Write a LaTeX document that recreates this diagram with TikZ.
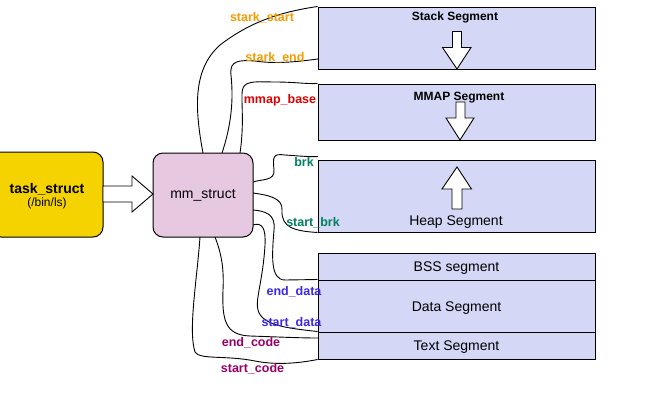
\documentclass[tikz,border=0pt]{standalone}
\usepackage{fontspec}
\setmainfont{Liberation Sans}
\usetikzlibrary{calc}
\definecolor{taskfill}{RGB}{245,211,0}
\definecolor{mmfill}{RGB}{230,200,224}
\definecolor{segfill}{RGB}{212,216,246}
\definecolor{lblorange}{RGB}{245,155,0}
\definecolor{lblred}{RGB}{220,0,0}
\definecolor{lblteal}{RGB}{0,128,96}
\definecolor{lblblue}{RGB}{60,40,230}
\definecolor{lblpurple}{RGB}{153,0,102}
\begin{document}
\begin{tikzpicture}[x=1pt,y=-1pt,
  roundbox/.style={draw=black,line width=1pt,rounded corners=10pt,inner sep=0pt,align=center},
  segbox/.style={draw=black,line width=1pt,fill=segfill,minimum width=277pt,inner sep=0pt},
  segtext/.style={font=\fontsize{14}{16}\selectfont,inner sep=0pt},
  seglabel/.style={font=\fontsize{12}{14}\selectfont\bfseries,inner sep=0pt},
  conn/.style={draw=black,line width=0.9pt},
  lbl/.style={font=\fontsize{12.5}{14}\selectfont\bfseries,inner sep=0pt},
  blockarrow/.style={draw=black,line width=0.9pt,fill=white,line join=miter}]
\clip (0,0) rectangle (670,400);
\fill[white] (0,0) rectangle (670,400);

% main boxes
\node[roundbox,fill=taskfill,minimum width=112pt,minimum height=85pt] (task) at (47,194.5) {};
\node[font=\fontsize{14}{16}\selectfont\bfseries,inner sep=0pt] (tasktitle) at (47,189) {task\_struct};
\node[font=\fontsize{12}{14}\selectfont,inner sep=0pt] (tasksub) at (47,203) {(/bin/ls)};
\node[roundbox,fill=mmfill,minimum width=100pt,minimum height=84pt,font=\fontsize{14}{16}\selectfont] (mm) at (203,195) {mm\_struct};

% segments
\node[segbox,minimum height=62pt] (stack) at (456.5,38) {};
\node[segbox,minimum height=56pt] (mmap) at (456.5,112) {};
\node[segbox,minimum height=72pt] (heap) at (456.5,196) {};
\node[segbox,minimum height=27pt] (bss) at (456.5,266.5) {};
\node[segbox,minimum height=52pt] (data) at (456.5,306) {};
\node[segbox,minimum height=27pt] (text) at (456.5,345.5) {};
\node[segtext] (bsslbl) at (456.5,268.5) {BSS segment};
\node[segtext] (datalbl) at (456.5,308) {Data Segment};
\node[segtext] (textlbl) at (456.5,347.5) {Text Segment};
\node[seglabel] (stacklbl) at (455,17.5) {Stack Segment};
\node[seglabel] (mmaplbl) at (459,97.5) {MMAP Segment};
\node[segtext] (heaplbl) at (456,222.5) {Heap Segment};

% block arrows
\draw[blockarrow] (103,186) -- (132,186) -- (132,176) -- (153,194) -- (132,212) -- (132,202) -- (103,202) -- cycle;
\draw[blockarrow] (452.5,31.5) -- (461.5,31.5) -- (461.5,47.5) -- (471,47.5) -- (457,69) -- (442.5,47.5) -- (452.5,47.5) -- cycle;
\draw[blockarrow] (456,102) -- (465,102) -- (465,118) -- (474,118) -- (460,140) -- (446,118) -- (456,118) -- cycle;
\draw[blockarrow] (452,209) -- (462,209) -- (462,189) -- (471.5,189) -- (457,167) -- (442,189) -- (452,189) -- cycle;

% connector endpoints
\coordinate (mmA) at (203,153);
\coordinate (mmB) at (222,153);
\coordinate (mmC) at (240,153);
\coordinate (mmD) at (253,182);
\coordinate (mmE) at (253,193);
\coordinate (mmF) at (253,210);
\coordinate (mmG) at (253,225);
\coordinate (mmH) at (215,237);
\coordinate (mmI) at (200,237);
\coordinate (stackEnd) at (318,59);
\coordinate (brkEnd) at (318,156.5);
\coordinate (codeEnd) at (318,338);

% connectors
\draw[conn] (mmA) .. controls (195,110) and (192,70) .. (220,45) .. controls (250,22) and (280,12) .. (stack.north west);
\draw[conn] (mmB) .. controls (233,120) and (233,95) .. (231,75) .. controls (229,60) and (240,60) .. (255,61) .. controls (275,64) and (295,62) .. (stackEnd);
\draw[conn] (mmC) .. controls (245,120) and (240,95) .. (243,88) .. controls (246,80) and (260,82) .. (275,82) .. controls (295,82) and (305,84) .. (mmap.north west);
\draw[conn] (mmD) .. controls (262,179) and (275,181) .. (274,170) .. controls (273,158) and (272,153) .. (285,155) .. controls (300,156) and (310,157) .. (brkEnd);
\draw[conn] (mmE) .. controls (268,195) and (283,198) .. (282,210) .. controls (281,228) and (295,231) .. (heap.south west);
\draw[conn] (mmF) .. controls (265,211) and (276,214) .. (274,230) .. controls (272,255) and (270,280) .. (285,280) -- (data.north west);
\draw[conn] (mmG) .. controls (262,222) and (266,228) .. (265,245) .. controls (263,280) and (255,300) .. (258,310) .. controls (262,325) and (285,328) .. (text.north west);
\draw[conn] (mmH) .. controls (222,255) and (224,270) .. (223,290) .. controls (222,320) and (225,335) .. (250,336) .. controls (280,337) and (300,338) .. (codeEnd);
\draw[conn] (mmI) .. controls (197,280) and (188,330) .. (195,352) .. controls (200,360) and (225,355) .. (255,361) .. controls (280,366) and (305,362) .. (text.south west);

% labels
\node[lbl,text=lblorange] (l1) at (262,18) {stark\_start};
\node[lbl,text=lblorange] (l2) at (275,58) {stark\_end};
\node[lbl,text=lblred] (l3) at (280,100) {mmap\_base};
\node[lbl,text=lblteal] (l4) at (304,162) {brk};
\node[lbl,text=lblteal] (l5) at (313,223) {start\_brk};
\node[lbl,text=lblblue] (l6) at (294,292) {end\_data};
\node[lbl,text=lblblue] (l7) at (291.5,323) {start\_data};
\node[lbl,text=lblpurple] (l8) at (251,343) {end\_code};
\node[lbl,text=lblpurple] (l9) at (252.5,369) {start\_code};
\end{tikzpicture}
\end{document}
